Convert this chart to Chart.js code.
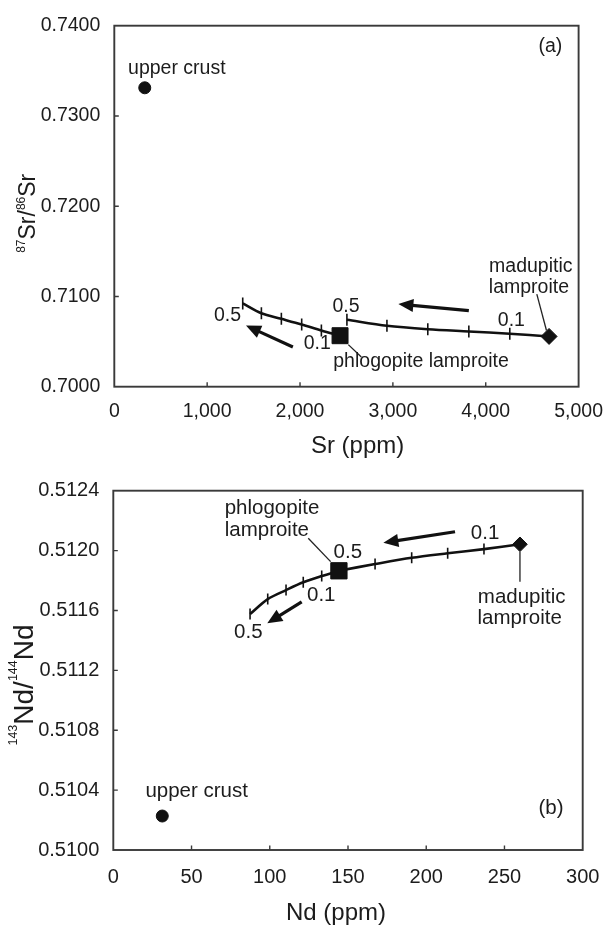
<!DOCTYPE html>
<html><head><meta charset="utf-8">
<script src="https://cdn.jsdelivr.net/npm/chart.js@4.4.0/dist/chart.umd.min.js"></script>
<style>
html,body{margin:0;padding:0;background:#fff;}
.wrap{position:absolute;left:0;width:616px;height:463px;}
#wa{top:0}#wb{top:463px}
canvas{display:block}
</style></head><body>
<div class="wrap" id="wa"><canvas id="ca" width="616" height="463"></canvas></div>
<div class="wrap" id="wb"><canvas id="cb" width="616" height="463"></canvas></div>
<script>
// ---------- Panel (a): Sr ----------
const srTicksX = [0, 1000, 2000, 3000, 4000, 5000];
const srTicksY = [0.7000, 0.7100, 0.7200, 0.7300, 0.7400];
const srUpperCrust = [[328, 0.73312]];
const srMadupitic = [[4682, 0.70557]];
const srPhlogopite = [[2431, 0.70565]];
const srCurveMad = [[4682,0.70557],[4259,0.70587],[3818,0.70612],[3376,0.70637],[2936,0.70675],[2505,0.70741]];
const srCurvePhl = [[2431,0.70565],[2230,0.70623],[2018,0.70689],[1799,0.70752],[1584,0.70813],[1383,0.70923]];
const srArrows = [[3818,0.70843,3059,0.70916],[1923,0.70440,1418,0.70678]];
const srLeaders = [[4550,0.71026,4654,0.70623],[2520,0.70466,2660,0.70330]];
const srLabels = [
  ['upper crust', 148, 0.73469, 'left'],
  ['(a)', 4696, 0.73711, 'center'],
  ['madupitic', 4485, 0.71271, 'center'],
  ['lamproite', 4465, 0.71041, 'center'],
  ['0.5', 1219, 0.70733, 'center'],
  ['0.5', 2495, 0.70824, 'center'],
  ['0.1', 4276, 0.70678, 'center'],
  ['0.1', 2186, 0.70414, 'center'],
  ['phlogopite lamproite', 2358, 0.70216, 'left']
];

// ---------- Panel (b): Nd ----------
const ndTicksX = [0, 50, 100, 150, 200, 250, 300];
const ndTicksY = [0.5100, 0.5104, 0.5108, 0.5112, 0.5116, 0.5120, 0.5124];
const ndUpperCrust = [[31.3, 0.510227]];
const ndMadupitic = [[259.9, 0.512042]];
const ndPhlogopite = [[144.2, 0.511865]];
const ndCurveMad = [[259.9,0.512042],[236.9,0.512010],[213.7,0.511982],[190.7,0.511952],[167.3,0.511910],[144.2,0.511865]];
const ndCurvePhl = [[144.2,0.511865],[133.2,0.511830],[121.4,0.511788],[110.4,0.511736],[98.7,0.511676],[87.4,0.511576]];
const ndArrows = [[218.4,0.512126,172.6,0.512052],[120.4,0.511658,98.4,0.511514]];
const ndLeaders = [[124.6,0.512082,138.9,0.511926],[259.9,0.511992,259.9,0.511792]];
const ndLabels = [
  ['phlogopite', 71.2, 0.512244, 'left'],
  ['lamproite', 71.2, 0.512097, 'left'],
  ['0.5', 149.9, 0.511948, 'center'],
  ['0.1', 237.6, 0.512075, 'center'],
  ['0.1', 132.9, 0.511665, 'center'],
  ['0.5', 86.3, 0.511414, 'center'],
  ['madupitic', 261, 0.511653, 'center'],
  ['lamproite', 259.7, 0.511509, 'center'],
  ['upper crust', 20.5, 0.510356, 'left'],
  ['(b)', 279.7, 0.510240, 'center']
];

const FAM = '"Liberation Sans", Arial, Helvetica, sans-serif';
const INK = '#111';
const TXT = '#1c1c1c';
const pts = a => a.map(p => ({x: p[0], y: p[1]}));

function makeChart(canvasId, cfg) {
  const tickRadius = cfg.tickR;
  const curveDs = (arr) => ({
    data: pts(arr), showLine: true, borderColor: INK, borderWidth: 2.6, tension: 0.3,
    pointStyle: 'line', rotation: 90, pointBorderColor: INK, pointBorderWidth: 1.6,
    pointRadius: arr.map((p, i) => i === 0 ? 0 : tickRadius), pointHoverRadius: 0, order: 5
  });
  const markDs = (arr, style, r) => ({
    data: pts(arr), showLine: false, pointStyle: style, pointRadius: r,
    pointBackgroundColor: INK, pointBorderColor: INK, pointBorderWidth: 1, order: 1
  });

  const overlay = {
    id: 'overlay',
    afterDraw(chart) {
      const ctx = chart.ctx, xs = chart.scales.x, ys = chart.scales.y, a = chart.chartArea;
      const px = v => xs.getPixelForValue(v), py = v => ys.getPixelForValue(v);
      ctx.save();
      // frame
      ctx.strokeStyle = '#3a3a3a'; ctx.lineWidth = 1.9;
      ctx.strokeRect(a.left, a.top, a.right - a.left, a.bottom - a.top);
      // inward tick marks
      ctx.lineWidth = 1.4;
      ctx.beginPath();
      cfg.ticksX.forEach(v => { const x = px(v); if (x > a.left + 2 && x < a.right - 2) { ctx.moveTo(x, a.bottom); ctx.lineTo(x, a.bottom - 4.5); } });
      cfg.ticksY.forEach(v => { const y = py(v); if (y > a.top + 2 && y < a.bottom - 2) { ctx.moveTo(a.left, y); ctx.lineTo(a.left + 4.5, y); } });
      ctx.stroke();
      // leader lines
      ctx.strokeStyle = '#222'; ctx.lineWidth = 1.3;
      cfg.leaders.forEach(l => { ctx.beginPath(); ctx.moveTo(px(l[0]), py(l[1])); ctx.lineTo(px(l[2]), py(l[3])); ctx.stroke(); });
      // arrows
      cfg.arrows.forEach(l => {
        const x1 = px(l[0]), y1 = py(l[1]), x2 = px(l[2]), y2 = py(l[3]);
        const ang = Math.atan2(y2 - y1, x2 - x1), L = 15, W = 6.5;
        const bx = x2 - L * Math.cos(ang), by = y2 - L * Math.sin(ang);
        ctx.strokeStyle = INK; ctx.lineWidth = 3.2; ctx.lineCap = 'butt';
        ctx.beginPath(); ctx.moveTo(x1, y1); ctx.lineTo(bx + Math.cos(ang), by + Math.sin(ang)); ctx.stroke();
        ctx.fillStyle = INK; ctx.beginPath();
        ctx.moveTo(x2, y2);
        ctx.lineTo(bx + W * Math.sin(ang), by - W * Math.cos(ang));
        ctx.lineTo(bx - W * Math.sin(ang), by + W * Math.cos(ang));
        ctx.closePath(); ctx.fill();
      });
      // annotation labels
      ctx.fillStyle = TXT; ctx.textBaseline = 'alphabetic';
      ctx.font = cfg.labelSize + 'px ' + FAM;
      cfg.labels.forEach(t => { ctx.textAlign = t[3]; ctx.fillText(t[0], px(t[1]), py(t[2])); });
      // x title
      ctx.font = cfg.xTitle.size + 'px ' + FAM; ctx.textAlign = 'center';
      ctx.fillText(cfg.xTitle.text, cfg.xTitle.x, cfg.xTitle.y);
      // y title with superscripts (rotated)
      const yt = cfg.yTitle;
      ctx.translate(yt.x, yt.y); ctx.rotate(-Math.PI / 2);
      ctx.textAlign = 'left';
      const mainF = yt.size + 'px ' + FAM, supF = yt.sup + 'px ' + FAM;
      let total = 0;
      yt.parts.forEach(p => { ctx.font = p[1] ? supF : mainF; total += ctx.measureText(p[0]).width; });
      let cx = -total / 2;
      yt.parts.forEach(p => {
        ctx.font = p[1] ? supF : mainF;
        ctx.fillText(p[0], cx, p[1] ? -yt.raise : 0);
        cx += ctx.measureText(p[0]).width;
      });
      ctx.restore();
    }
  };

  return new Chart(document.getElementById(canvasId), {
    type: 'scatter',
    data: {
      datasets: [
        markDs(cfg.phl, 'rect', cfg.sqR),
        markDs(cfg.mad, 'rectRot', cfg.diaR),
        markDs(cfg.crust, 'circle', 6),
        curveDs(cfg.curveMad),
        curveDs(cfg.curvePhl)
      ]
    },
    options: {
      responsive: false, animation: false, devicePixelRatio: 1, events: [],
      layout: { padding: cfg.pad },
      plugins: { legend: { display: false }, tooltip: { enabled: false } },
      scales: {
        x: {
          type: 'linear', min: cfg.ticksX[0], max: cfg.ticksX[cfg.ticksX.length - 1],
          afterBuildTicks: s => { s.ticks = cfg.ticksX.map(v => ({ value: v })); },
          afterFit: s => { s.height = cfg.xH; },
          grid: { display: false, drawTicks: false }, border: { display: false },
          ticks: { autoSkip: false, maxRotation: 0, padding: cfg.xPad, color: TXT,
            font: { family: FAM, size: cfg.tickSize }, callback: v => cfg.fmtX(v) }
        },
        y: {
          type: 'linear', min: cfg.ticksY[0], max: cfg.ticksY[cfg.ticksY.length - 1],
          afterBuildTicks: s => { s.ticks = cfg.ticksY.map(v => ({ value: v })); },
          afterFit: s => { s.width = cfg.yW; },
          grid: { display: false, drawTicks: false }, border: { display: false },
          ticks: { autoSkip: false, padding: 14, color: TXT,
            font: { family: FAM, size: cfg.tickSize }, callback: v => Number(v).toFixed(4) }
        }
      }
    },
    plugins: [overlay]
  });
}

makeChart('ca', {
  ticksX: srTicksX, ticksY: srTicksY, crust: srUpperCrust, mad: srMadupitic, phl: srPhlogopite,
  curveMad: srCurveMad, curvePhl: srCurvePhl, arrows: srArrows, leaders: srLeaders, labels: srLabels,
  fmtX: v => Number(v).toLocaleString('en-US'),
  pad: { left: 0, right: 29.3, top: 22.7, bottom: 0 }, xH: 76.3, yW: 114.3, xPad: 13,
  tickSize: 19.5, labelSize: 19.5, tickR: 6, sqR: 11.3, diaR: 8,
  xTitle: { text: 'Sr (ppm)', x: 357.6, y: 453.3, size: 24 },
  yTitle: { x: 35, y: 213.3, size: 23, sup: 12, raise: 10, parts: [['87', true], ['Sr/', false], ['86', true], ['Sr', false]] }
});

makeChart('cb', {
  ticksX: ndTicksX, ticksY: ndTicksY, crust: ndUpperCrust, mad: ndMadupitic, phl: ndPhlogopite,
  curveMad: ndCurveMad, curvePhl: ndCurvePhl, arrows: ndArrows, leaders: ndLeaders, labels: ndLabels,
  fmtX: v => String(v),
  pad: { left: 0, right: 33.3, top: 27.7, bottom: 0 }, xH: 76, yW: 113.3, xPad: 15.5,
  tickSize: 20, labelSize: 20.5, tickR: 5.5, sqR: 11.5, diaR: 7.3,
  xTitle: { text: 'Nd (ppm)', x: 336, y: 457, size: 24 },
  yTitle: { x: 33.3, y: 222, size: 28, sup: 12.5, raise: 16, parts: [['143', true], ['Nd/', false], ['144', true], ['Nd', false]] }
});
</script>
</body></html>
